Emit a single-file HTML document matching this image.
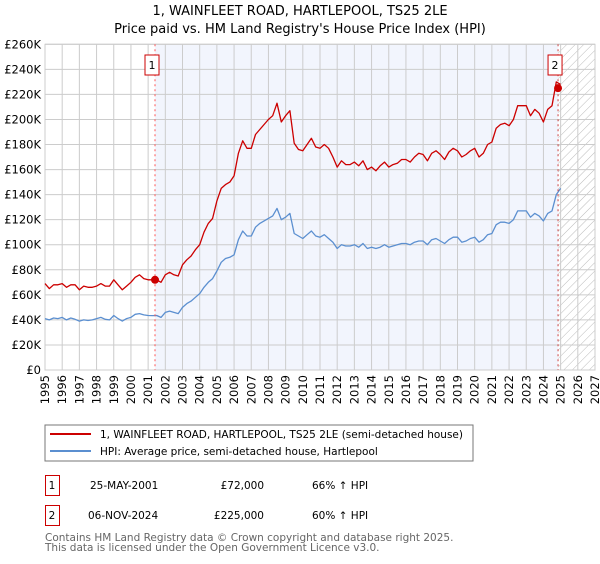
<!DOCTYPE html>
<html><head><meta charset="utf-8"><style>
body{margin:0;background:#fff;width:600px;height:560px;overflow:hidden;font-family:"DejaVu Sans","Liberation Sans",sans-serif}
svg text{font-family:"DejaVu Sans","Liberation Sans",sans-serif}
</style></head><body>
<svg id="c" width="600" height="560" xmlns="http://www.w3.org/2000/svg">
<defs><pattern id="hatch" width="6" height="6" patternUnits="userSpaceOnUse" patternTransform="rotate(45)"><line x1="0" y1="0" x2="0" y2="6" stroke="#bbb" stroke-width="1"/></pattern></defs>
<text x="300" y="15" text-anchor="middle" font-size="13">1, WAINFLEET ROAD, HARTLEPOOL, TS25 2LE</text>
<text x="300" y="33" text-anchor="middle" font-size="13">Price paid vs. HM Land Registry's House Price Index (HPI)</text>
<g id="plot"></g>
<rect x="45" y="425" width="428" height="36" fill="#fff" stroke="#777"/>
<line x1="50" y1="434" x2="91" y2="434" stroke="#cc0000" stroke-width="2"/>
<text x="100" y="438" font-size="10.5">1, WAINFLEET ROAD, HARTLEPOOL, TS25 2LE (semi-detached house)</text>
<line x1="50" y1="451" x2="91" y2="451" stroke="#5b8fd0" stroke-width="2"/>
<text x="100" y="455" font-size="10.5">HPI: Average price, semi-detached house, Hartlepool</text>
<g>
<rect x="45.5" y="475.5" width="14" height="20" fill="none" stroke="#cc0000"/>
<text x="52" y="489" text-anchor="middle" font-size="10.5">1</text>
<text x="90" y="489" font-size="10.5">25-MAY-2001</text>
<text x="264" y="489" text-anchor="end" font-size="10.5">£72,000</text>
<text x="312" y="489" font-size="10.5">66% ↑ HPI</text></g>
<g>
<rect x="45.5" y="505.5" width="14" height="20" fill="none" stroke="#cc0000"/>
<text x="52" y="519" text-anchor="middle" font-size="10.5">2</text>
<text x="88" y="519" font-size="10.5">06-NOV-2024</text>
<text x="264" y="519" text-anchor="end" font-size="10.5">£225,000</text>
<text x="312" y="519" font-size="10.5">60% ↑ HPI</text></g>
<text x="45" y="541" font-size="10.5" fill="#666">Contains HM Land Registry data © Crown copyright and database right 2025.</text>
<text x="45" y="551" font-size="10.5" fill="#666">This data is licensed under the Open Government Licence v3.0.</text>
</svg>
<script>
const yTicks=[0,20,40,60,80,100,120,140,160,180,200,220,240,260];
const xYears=[1995,1996,1997,1998,1999,2000,2001,2002,2003,2004,2005,2006,2007,2008,2009,2010,2011,2012,2013,2014,2015,2016,2017,2018,2019,2020,2021,2022,2023,2024,2025,2026,2027];
const hpi=[41,40,41.5,41, 42,40,41.5,40.5, 39,40,39.5,40, 41,42,40.5,40, 43.5,41,39,41, 42,44.5,45,44, 43.5,43.4,43.5,42, 46,47,46,45, 50,53,55,58, 61,66,70,73, 79,86,89,90, 92,104,111,107, 107,114,117,119, 121,123,129,120, 122,125,109,107, 105,108,111,107, 106,108,105,102, 97,100,99,99, 100,98,101,97, 98,97,98,100, 98,99,100,101, 101,100,102,103, 103,100,104,105, 103,101,104,106, 106,102,103,105, 106,102,104,108, 109,116,118,118, 117,120,127,127, 127,122,125,123, 119,125,127,140, 145];
const price=[69,65,68,68, 69,66,68,68, 64,67,66,66, 67,69,67,67, 72,68,64,67, 70,74,76,73, 72,72,72,70, 76,78,76,75, 84,88,91,96, 100,110,117,121, 135,145,148,150, 155,173,183,177, 177,188,192,196, 200,203,213,198, 203,207,181,176, 175,180,185,178, 177,180,177,170, 162,167,164,164, 166,163,167,160, 162,159,163,166, 162,164,165,168, 168,166,170,173, 172,167,173,175, 172,168,174,177, 175,170,172,175, 177,170,173,180, 182,193,196,197, 195,200,211,211, 211,203,208,205, 198,208,211,230, 228];
const sales=[{t:2001.4,v:72,label:"1"},{t:2024.85,v:225,label:"2"}];
const L=45,R=595,T=44.3,B=370;
const X=t=>L+(t-1995)/32*(R-L), Y=v=>B-v/260*(B-T);
const NS="http://www.w3.org/2000/svg", g=document.getElementById('plot');
function mk(tag,attrs,parent){const e=document.createElementNS(NS,tag);for(const k in attrs)e.setAttribute(k,attrs[k]);(parent||g).appendChild(e);return e;}
let e;
e=mk('rect',{x:X(sales[0].t),y:T,width:X(sales[1].t)-X(sales[0].t),height:B-T,fill:'#f2f5fd'});


e=mk('rect',{x:X(sales[1].t),y:T,width:R-X(sales[1].t),height:B-T,fill:'url(#hatch)'});


yTicks.forEach(v=>{
 e=mk('line',{x1:L,x2:R,y1:Y(v),y2:Y(v),stroke:'#ccc'});
 
 
 e=mk('text',{x:L-4,y:Y(v)+4,'text-anchor':'end','font-size':'11.5'});e.textContent=v===0?'£0':'£'+v+'K';
 
 
});
xYears.forEach(yr=>{
 e=mk('line',{x1:X(yr),x2:X(yr),y1:T,y2:B,stroke:'#ccc'});
 
 
 e=mk('text',{x:0,y:0,'font-size':'11.5','text-anchor':'end',transform:`translate(${X(yr)+4},${B+5}) rotate(-90)`});e.textContent=yr;
 
 
});
e=mk('rect',{x:L,y:T,width:R-L,height:B-T,fill:'none',stroke:'#ccc'});


function path(arr,col,name){
 const d=arr.map((v,i)=>(i?'L':'M')+X(1995+i*0.25).toFixed(1)+','+Y(v).toFixed(1)).join('');
 e=mk('path',{d:d,fill:'none',stroke:col,'stroke-width':1.3,'stroke-linejoin':'round'});
 
 
}
path(hpi,'#5b8fd0','hpi-line');
path(price,'#cc0000','price-line');
sales.forEach((s,i)=>{
 e=mk('line',{x1:X(s.t),x2:X(s.t),y1:T,y2:B,stroke:i?'#c44':'#f55','stroke-dasharray':'2,3'});
 
 
 e=mk('circle',{cx:X(s.t),cy:Y(s.v),r:4,fill:'#cc0000'});
 
 
 e=mk('rect',{x:X(s.t)-10,y:55,width:14,height:20,fill:'#fff',stroke:'#cc0000'});
 
 
 e=mk('text',{x:X(s.t)-3,y:69,'text-anchor':'middle','font-size':'11'});e.textContent=s.label;
 
 
});
</script>
</body></html>
